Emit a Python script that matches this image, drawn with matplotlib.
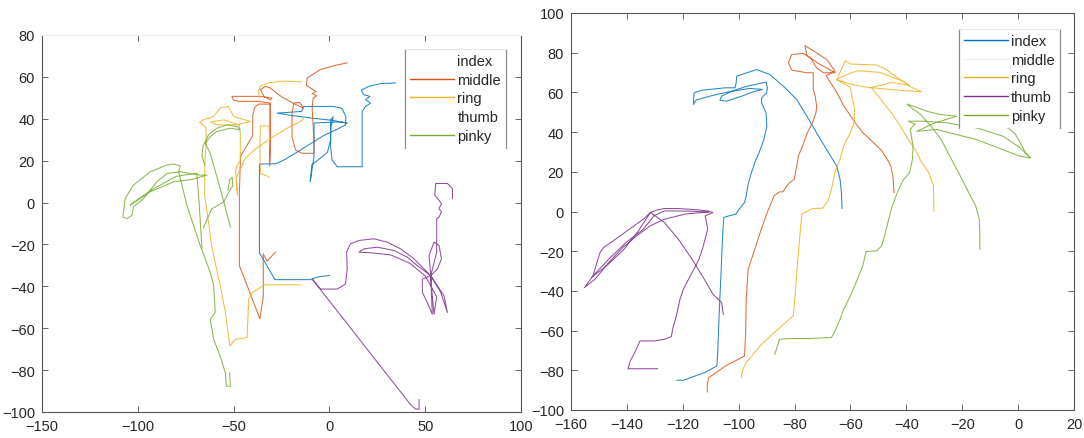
import numpy as np
import matplotlib
matplotlib.use("Agg")
import matplotlib.pyplot as plt
from matplotlib.lines import Line2D

nan = float("nan")

# ---------------- left panel trajectories ----------------
left_index_x = [0.0, -6, -10, -28.4, -36.5, -36.5, -28, -23.8, -17, -10, -3, 4, 8.4, 8.6, 6.5, 2, -8, -13.4,
                -14.5, -27.3, -20, -8, 2, 9.3, 6, -8, -8, -10, -9.2, -5, -1, 0.6, 0.6, 2, 0.8, 0.6, 1.4, 4.1,
                17.1, 17.1, 18.9, 21.5, 18.9, 21.1, 18, 16.6, 20.6, 26.7, 34.6]
left_index_y = [-34.8, -35.5, -36.8, -36.8, -24, 18.4, 18.5, 20.3, 24, 28, 32, 35, 37.1, 41, 45, 45.9, 45.9,
                45.9, 43.5, 42.7, 41.6, 40.2, 39.2, 37.9, 38.5, 38, 22, 10, 18, 21, 24, 30, 39.5, 41, 36,
                26.7, 20.3, 17.1, 17.1, 43.5, 45.9, 47.5, 49.1, 50.7, 51.5, 53.6, 55.5, 56.8, 57.1]

left_middle_x = [9.3, 3, -4.7, -11.6, -12, -9.5, -7, -9, -6.5, -8.5, -9, -8.1, -8.1, -14.2, -17.7, -19.5,
                 -19.5, -18.6, -15.5, -13.5, -18, -23.8, -26.5, -30.8, -33.4, -36, -34, -30.8, -29.9, -36,
                 -50.9, -50, -47.4, -36.9, -30.8, -30.8, -31.2, -31, -31, -37, -39, -40, -40, -46.4, -47,
                 -47, -47, -41.5, -36.3, -34.5, -34.5, -32.5, -28.2]
left_middle_y = [66.7, 65.5, 63.5, 59.5, 56, 54.5, 53, 52, 51, 49.9, 45, 30, 23.5, 23.5, 25.1, 31.5, 42.7,
                 47.5, 47.8, 45, 47, 49.9, 51.5, 54.7, 55.5, 53.9, 50.5, 49.1, 49.9, 50.7, 50.7, 49, 48.3,
                 48.3, 47.5, 30, 17.6, 25, 47, 47, 45.5, 41.5, 32, 22, 4.5, -22, -30.1, -43, -55.5, -45,
                 -24.5, -28, -23.7]

left_ring_x = [-15.1, -34.3, -36, -40.3, -42.1, -42.5, -43, -49.1, -52, -54.3, -57, -61.5, -63, -65.1, -65,
               -64.2, -64.5, -67.8, -65.7, -60.4, -57, -52.6, -50, -41.3, -48.2, -58.7, -62, -55, -47, -46.5,
               -46.5, -48.2, -49, -48, -48.5, -44, -38, -30, -22, -15.1, -13.5, nan,
               -31.5, -32, -36, -36.3, -36, -31.5, -31.5, nan,
               -14.7, -20.3, -25.6, -31.7, -36, -37, -36.5]
left_ring_y = [-39.3, -39.3, -40.5, -43, -46, -55, -64.5, -65.3, -68.5, -52.3, -39.6, -20.6, -10, 3.3, 20,
               30, 36, 38.2, 39.5, 41.1, 45.1, 45.9, 41.1, 38.7, 37.1, 37.1, 38.5, 39.5, 37, 33, 20, 17.9,
               15, 3.5, 12, 21, 26, 31, 35.5, 38.7, 40, nan,
               12, 12.5, 14, 25, 36.6, 36.6, 34, nan,
               57.6, 57.9, 57.9, 57.1, 55.5, 53, 50]

left_thumb_x = [46.8, 46.8, 45, 42.4, -9, -4.6, 4.1, 8.4, 9.3, 9, 9.3, 11, 15.4, 23.2, 30.2, 37.2, 44.2, 49.4,
                52.9, 59.8, 61.6, 58.1, 52.9, 45.9, 40.7, 33.7, 25, 18, 15.4, 22, 32, 42, 50, 56, 54.6, 53.7,
                52.9, 48.5, 48.5, 51.1, 53.7, 52.9, 56.4, 58.5, 57.2, 54.6, 52, 52.9, 56, 56, 57.2, 58.5,
                57.2, 58.5, 57.2, 55, 55.5, 61.6, 64.2, 64.2]
left_thumb_y = [-94.1, -98.6, -98.6, -96.5, -36.5, -41.3, -41.3, -38.9, -31.7, -23.7, -22.9, -19.7, -18.1,
                -17.3, -18.9, -22.1, -26.9, -31.7, -34.9, -44.5, -52.5, -42.9, -34.9, -30.1, -26.1, -22.9,
                -21.3, -22.1, -23.7, -24, -25, -29, -35, -45, -53.3, -45, -34.9, -36.5, -42.9, -47.7, -53.3,
                -34.9, -31.7, -26.9, -20.5, -18.9, -25.3, -34.9, -23.7, -7.7, -6.9, -4.5, -2.9, -0.5, 1.1,
                3.5, 9.1, 9.1, 6.7, 1.9]

left_pinky_x = [-52.1, -51.7, -53.8, -54.3, -57, -60.4, -62.2, -59.6, -60.4, -62.2, -67.4, -74.4, -78.7,
                -77.9, -81.3, -84.8, -93.6, -102.3, -106.6, -107.8, -105.8, -103.1, -102.3, -97, -90.1,
                -84.8, -77.9, -72.6, -67.4, -63.9, -72, -81.3, -93.6, -104, -100, -92, -80, -69.2, -68,
                -66.5, nan,
                -65.7, -61.5, -55.2, -52.5, -50.5, -50.7, -52, -53, nan,
                -51.7, -55, -58, -62.2, -64.8, -62.2, -58.7, -51.7, -46.5, -48.2, -53.5, -58.7, -63.1, -66,
                -66.5, -65]
left_pinky_y = [-81.3, -87.7, -87.7, -81.3, -73.3, -65.3, -55.7, -52.5, -39.7, -33.3, -20.5, -1.3, 14.7,
                17.5, 18.4, 17.9, 14.7, 8.3, 1.9, -6.9, -7.7, -6.1, -2.1, 1.9, 9.9, 13.9, 14.7, 13.9, 13.1,
                13.1, 11, 9.9, 5.1, -1.3, 1.5, 6.5, 12.5, 14, 0, -22, nan,
                -12, -3.1, 0.3, 4.9, 8, 12, 11, 6, nan,
                -11.7, 0, 10, 23.5, 28.3, 31.5, 33.9, 35.5, 34.7, 36.3, 37.1, 35.5, 32.3, 27, 22, 18]

# ---------------- right panel trajectories ----------------
right_index_x = [-122.1, -119.7, -117.2, -112.2, -107.8, -107.5, -107, -106.2, -105.7, -105.3, -103.5, -101,
                 -99.8, -97.9, -97.3, -96.6, -95.4, -94.2, -92.6, -91, -89.9, -90.2, -91.8, -91.8, -90,
                 -89.7, -90.2, -97.1, -102.5, -106.1, -106.7, -104.3, -98.9, -95.3, -91.5, -96, -104.3,
                 -110.3, -115.3, -116.2, -116, -113.2, -104.9, -101.3, -100.9, -100.7, -93.6, -88.8, -84,
                 -79.2, -75.6, -72.1, -68.5, -64.9, -63.7, -63.2, -63]
right_index_y = [-85, -85, -83.7, -81.2, -77.8, -71.1, -52.6, -27.4, -10.6, -3, -2.2, -1.3, 1.2, 4.5, 7.9,
                 13.8, 19.7, 24.7, 30, 36.2, 43, 49.7, 54.7, 57.2, 59.8, 62.3, 65.2, 63.1, 60.6, 58.1, 56.1,
                 55.6, 58.1, 60.1, 61.5, 62, 60.1, 58.1, 56.1, 53.9, 59.8, 61.1, 62.3, 62.3, 64.8, 68.2,
                 71.5, 69, 63.1, 56.4, 48, 39.6, 31.2, 22.8, 16.1, 9, 1.5]

right_middle_x = [-111.2, -111.3, -110.7, -104.7, -97.9, -97.5, -97.3, -96.6, -95.4, -92.3, -89.8, -87.3,
                  -85.4, -84.2, -82.3, -80.1, -79.2, -78.6, -77, -75.5, -73.5, -72.3, -72.1, -72.6, -73.3,
                  -73.3, -75.6, -81, -82.2, -81, -76.9, -75.6, -73.9, -72.1, -69.7, -65.5, -70.9, -75.6,
                  -76.3, -72.1, -68.5, -65.5, -68.7, -64.9, -62.4, -60, -57.5, -55.6, -53.1, -50.6, -48.8,
                  -46.9, -45.6, -44.8, -44.4]
right_middle_y = [-90.9, -87.9, -83.7, -77.8, -72.8, -61, -44.2, -29.1, -24, -10.6, -0.5, 7.9, 9.9, 9.9,
                  13.8, 16.3, 23, 28.1, 33.5, 39.5, 44.9, 50, 53.1, 58, 61.5, 69.9, 69.9, 71.2, 74.9, 79.1,
                  79.6, 78.6, 76.6, 72.4, 69.9, 69.9, 74.1, 78.6, 83.6, 79.9, 76.6, 70.7, 68.4, 60, 53.3,
                  48.2, 43.2, 39.8, 36.5, 33.1, 30.6, 26.4, 23, 18, 9.6]

right_ring_x = [-99.1, -98.5, -97.3, -92.3, -87.3, -80.5, -79.9, -79.2, -78.6, -78, -77.4, -73.6, -69.9, -68,
                -66.8, -65.5, -63.7, -62.4, -60, -58.7, -58.5, -59.3, -60, -64.9, -62.4, -57.5, -49.4, -45,
                -41.3, -38.8, -34.5, -40, -47.5, -53.7, -60, -64.9, -61.8, -60, -50.6, -47.5, -42.5, -38.8,
                -45, -52.5, -48.8, -45, -41.9, -39.4, -36.9, -34.5, -32, -30.3, -30.1]
right_ring_y = [-83.7, -79.5, -76.1, -67.7, -61, -52.6, -44.2, -30.8, -20.7, -10.6, -1.3, 1.5, 1.7, 5.4, 11.3,
                19.7, 26.4, 33.1, 39.8, 44.9, 51.6, 56.6, 62.5, 66.4, 68.4, 70.9, 70.1, 67.6, 65.9, 63, 60.3,
                60.8, 61.7, 62.5, 64.2, 66.4, 76, 74.3, 73.8, 71.8, 66.7, 63.5, 65, 62.5, 55.8, 49.1, 42.4,
                36.5, 31.4, 24.7, 19.7, 12.9, 0.2]

right_thumb_x = [-129, -139.6, -138.8, -137.2, -135.3, -130.3, -126.6, -124.1, -123.5, -122.3, -121, -119.8,
                 -117.3, -115.4, -114.2, -113, -111.7, -111.1, -111.7, -112, -109.2, -111.1, -114.2, -121.6,
                 -126.6, -129.1, -131.6, -134.1, -139.1, -144, -148.4, -149.6, -150.9, -152.1, -155.2,
                 -151.4, -146.5, -141.5, -136.5, -131.6, -126.6, -119.2, -112.9, -110.5, -118, -126.6,
                 -130.3, -134.1, -140.3, -146.5, -152.7, -147, -141, -136, -131.6, -126.6, -121.6, -116.7,
                 -112.3, -109.2, -106.1, -105.5]
right_thumb_y = [-79.2, -79.2, -75.3, -71.1, -65.2, -65.2, -64.4, -63, -58.5, -52.6, -44.2, -39.2, -32.4,
                 -27.4, -24, -19, -12.3, -8.9, -3.9, -2.2, -0.5, 0.3, 0.8, 1.5, 1.5, 0.8, -0.5, -3.9, -8.9,
                 -13.9, -18.2, -20.7, -26.6, -32.4, -38.3, -34.1, -25.7, -18.2, -12.3, -7.2, -3.9, -1.3,
                 -0.5, -0.2, 0.2, 0.3, -2.2, -8.9, -15.6, -24, -33.3, -27, -19, -10, -0.5, -5.5, -13.9,
                 -24, -34.1, -41.7, -45.9, -51.8]

right_pinky_x = [-87.1, -86.1, -85.4, -82.3, -74.9, -66.8, -65.5, -63.7, -62.4, -60, -57.5, -55.6, -54.4,
                 -50.6, -48.8, -47.5, -46.3, -45, -43.2, -41.3, -38.8, -37.8, -37.6, -38.2, -38.6, -36.9,
                 -39.3, -33.9, -25.5, -14.8, -5.3, 0.7, 4.3, 0.7, -4.1, -14.8, -29.1, -36.3, -30, -22,
                 -27.9, -32.7, -37.5, -39.8, -35.1, -31.3, -27.6, -25.1, -22.6, -20.1, -17.7, -15.2, -13.9,
                 -13.7, -13.7, nan,
                 -7.1, -3.5, -1, 1, 2.5, 4.3]
right_pinky_y = [-71.9, -67.7, -64.4, -64, -64, -63.5, -60.2, -54.3, -49.2, -42.5, -34.1, -27.4, -20.2,
                 -19.8, -17.3, -10.6, -3.9, 2.9, 9.6, 15.5, 19.7, 26.4, 33.1, 38.2, 41.5, 44, 45.5, 45.5,
                 44.7, 42.1, 37.9, 32.1, 27, 27.8, 30.4, 36.2, 41.3, 40.4, 44.5, 48, 48.9, 50.5, 53.1, 54.1,
                 49.1, 43.2, 36.5, 29.7, 23, 16.3, 9.6, 2.9, -3.9, -10.6, -19, nan,
                 43.5, 42, 39, 34, 30, 27]

finger_names = ["index", "middle", "ring", "thumb", "pinky"]
finger_colors = ["#0072BD", "#D95319", "#EDB120", "#7E2F8E", "#77AC30"]

left_series = [(left_index_x, left_index_y), (left_middle_x, left_middle_y), (left_ring_x, left_ring_y),
               (left_thumb_x, left_thumb_y), (left_pinky_x, left_pinky_y)]
right_series = [(right_index_x, right_index_y), (right_middle_x, right_middle_y),
                (right_ring_x, right_ring_y), (right_thumb_x, right_thumb_y), (right_pinky_x, right_pinky_y)]

# legend swatch colours as they appear in each panel
left_key_colors = ["#ffffff", "#D95319", "#EDB120", "#ffffff", "#77AC30"]
right_key_colors = ["#0072BD", "#f6eeea", "#EDB120", "#7E2F8E", "#77AC30"]

plt.rcParams["font.family"] = ["Liberation Sans", "DejaVu Sans"]

W, H = 1084, 439
fig = plt.figure(figsize=(W / 100, H / 100), dpi=100)
axL = fig.add_axes([42 / W, 1 - 413 / H, 479 / W, 377 / H])
axR = fig.add_axes([571 / W, 1 - 411 / H, 503 / W, 397 / H])


def style_axes(ax, xlim, ylim, xticks, yticks):
    ax.set_xlim(*xlim)
    ax.set_ylim(*ylim)
    ax.set_xticks(xticks)
    ax.set_yticks(yticks)
    ax.tick_params(direction="in", length=4, width=0.6, color="#505050", labelcolor="#262626",
                   labelsize=10.5, top=True, right=True, pad=5)
    for s in ax.spines.values():
        s.set_color("#555555")
        s.set_linewidth(0.8)


def draw_panel(ax, series):
    for (xs, ys), c in zip(series, finger_colors):
        ax.plot(np.array(xs, dtype=float), np.array(ys, dtype=float), color=c, lw=0.75, alpha=0.85)


def add_key(ax, colors, anchor):
    handles = [Line2D([0], [0], color=c, lw=1.0) for c in colors]
    leg = ax.legend(handles, finger_names, loc="upper right", bbox_to_anchor=anchor, fontsize=10.5,
                    handlelength=3.0, handletextpad=0.25, labelspacing=0.32, borderpad=0.35,
                    borderaxespad=0.0, frameon=True, fancybox=False, framealpha=1.0)
    leg.get_frame().set_edgecolor("none")
    leg.get_frame().set_facecolor("white")
    for t in leg.get_texts():
        t.set_color("#262626")
    return leg


draw_panel(axL, left_series)
style_axes(axL, (-150, 100), (-100, 80), np.arange(-150, 101, 50), np.arange(-100, 81, 20))
axL.spines["top"].set_color("#f0f0f0")
legL = add_key(axL, left_key_colors, (0.969, 0.963))

draw_panel(axR, right_series)
style_axes(axR, (-160, 20), (-100, 100), np.arange(-160, 21, 20), np.arange(-100, 101, 20))
legR = add_key(axR, right_key_colors, (0.972, 0.960))

# thin side rules of the legend boxes
fig.canvas.draw()
for ax, leg in ((axL, legL), (axR, legR)):
    bb = leg.get_frame().get_window_extent().transformed(ax.transAxes.inverted())
    for xe in (bb.x0, bb.x1):
        ax.add_line(Line2D([xe, xe], [bb.y0, bb.y1], transform=ax.transAxes, color="#8c8c8c",
                           lw=0.9, clip_on=False, zorder=6))
    ax.add_line(Line2D([bb.x0, bb.x1], [bb.y1, bb.y1], transform=ax.transAxes, color="#e4e4e4",
                       lw=0.8, clip_on=False, zorder=6))

fig.savefig("out.png", dpi=100)
